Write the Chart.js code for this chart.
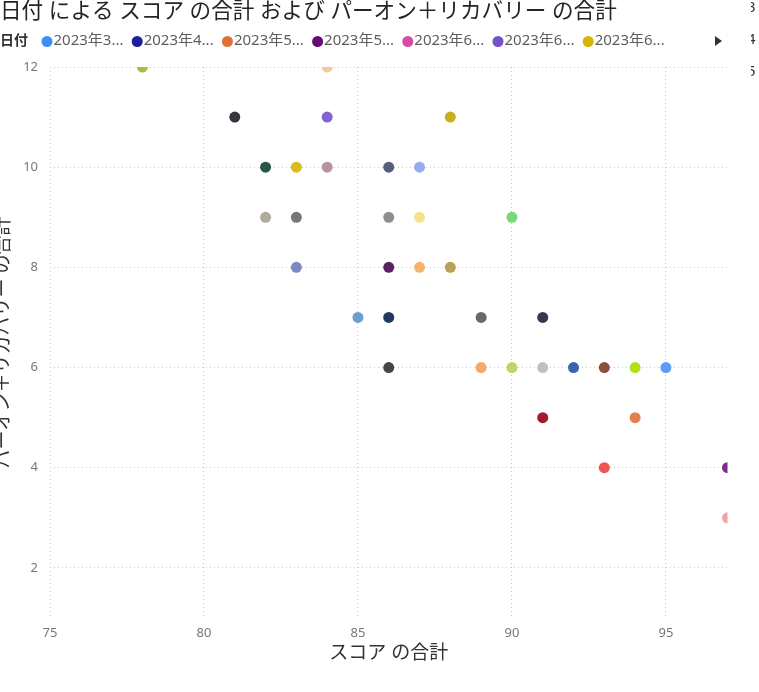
<!DOCTYPE html>
<html>
<head>
<meta charset="utf-8">
<script src="https://cdn.jsdelivr.net/npm/chart.js@4/dist/chart.umd.min.js"></script>
<style>
html, body { margin: 0; padding: 0; background: #fff; }
#wrap { width: 759px; height: 692px; }
</style>
</head>
<body>
<div id="wrap"><canvas id="myChart"></canvas></div>
<script>
// スコア の合計 (x) と パーオン＋リカバリー の合計 (y)、日付ごとに1点
let scores = [78, 84, 81, 84, 88, 82, 83, 84, 86, 87, 82, 83, 86, 87, 90, 83, 86, 87, 88,
              85, 86, 89, 91, 86, 89, 90, 91, 92, 93, 94, 95, 91, 94, 93, 97, 97];
let parOnRecovery = [12, 12, 11, 11, 11, 10, 10, 10, 10, 10, 9, 9, 9, 9, 9, 8, 8, 8, 8,
                     7, 7, 7, 7, 6, 6, 6, 6, 6, 6, 6, 6, 5, 5, 4, 4, 3];
let pointColors = ["#9DC140", "#F5C99A", "#35373C", "#8462CF", "#C9AE1E", "#265848", "#D8BD1E",
                   "#B8929E", "#55607A", "#98AAF0", "#AEAA9C", "#77777B", "#8F8F93", "#F4E288",
                   "#78D878", "#7B89C2", "#5A2262", "#F5B46C", "#B8A055", "#6B9FD1", "#203A5E",
                   "#6A6A6A", "#3A3550", "#414848", "#F5A868", "#B6DA62", "#C6BEB8", "#4060B4",
                   "#8B4F3C", "#B2E012", "#5B9CF8", "#A31A2C", "#E3804C", "#EF5454", "#7B2A92",
                   "#F2A2A2"];

let legendLabels = ["2023年3...", "2023年4...", "2023年5...", "2023年5...", "2023年6...", "2023年6...", "2023年6..."];
let legendColors = ["#3F8EF8", "#1E1F9C", "#E26F38", "#6A0A7A", "#D64BAA", "#7650C6", "#D6B400"];

let xTicks = [75, 80, 85, 90, 95];
let yTicks = [2, 4, 6, 8, 10, 12];

const FONT = "'Noto Sans', 'Noto Sans CJK JP', sans-serif";

// タイトルと凡例は Power BI 風に手で描く
const headerPlugin = {
    id: 'header',
    afterDraw(chart) {
        const ctx = chart.ctx;
        ctx.save();
        ctx.textBaseline = 'middle';
        ctx.textAlign = 'left';

        ctx.fillStyle = '#252423';
        ctx.font = `21.6px ${FONT}`;
        ctx.fillText('日付 による スコア の合計 および パーオン＋リカバリー の合計', 0, 12);

        ctx.font = `bold 14px ${FONT}`;
        ctx.fillStyle = '#333333';
        ctx.fillText('日付', 0, 41);

        ctx.font = `15px ${FONT}`;
        legendLabels.forEach((label, i) => {
            const cx = 47 + i * 90.2;
            ctx.fillStyle = legendColors[i];
            ctx.beginPath();
            ctx.arc(cx, 41.5, 5.5, 0, Math.PI * 2);
            ctx.fill();
            ctx.fillStyle = '#605E5C';
            ctx.fillText(label, cx + 6.5, 41);
        });

        // 凡例のページ送り矢印
        ctx.fillStyle = '#333333';
        ctx.beginPath();
        ctx.moveTo(715, 36);
        ctx.lineTo(722, 41);
        ctx.lineTo(715, 46);
        ctx.closePath();
        ctx.fill();

        // 右端で切れている隣のビジュアルの文字
        ctx.beginPath();
        ctx.rect(751, 0, 8, 90);
        ctx.clip();
        ctx.font = `15px ${FONT}`;
        ctx.fillStyle = '#333333';
        ctx.fillText('3', 747, 8);
        ctx.fillText('4', 747, 40);
        ctx.fillText('5', 747, 72);
        ctx.restore();
    }
};

new Chart("myChart", {
    type: "scatter",
    data: {
        datasets: [{
            data: scores.map((s, i) => ({x: s, y: parOnRecovery[i]})),
            backgroundColor: pointColors,
            borderWidth: 0,
            pointRadius: 5.5,
            pointHoverRadius: 5.5,
            clip: 0
        }]
    },
    options: {
        responsive: true,
        maintainAspectRatio: false,
        animation: false,
        layout: {padding: {top: 67, right: 31.5, left: 0, bottom: 0}},
        plugins: {
            legend: {display: false},
            title: {display: false},
            tooltip: {enabled: false}
        },
        scales: {
            x: {
                type: 'linear',
                min: 75,
                max: 97,
                afterBuildTicks: (scale) => { scale.ticks = xTicks.map(v => ({value: v})); },
                afterFit: (scale) => { scale.height = 74; },
                ticks: {color: '#777777', font: {size: 13, family: FONT}, padding: 7},
                grid: {color: '#c8c8c8', drawTicks: false, lineWidth: 1},
                border: {display: false, dash: [1, 3]},
                title: {
                    display: true,
                    text: 'スコア の合計',
                    color: '#333333',
                    font: {size: 19, family: FONT, lineHeight: 1},
                    padding: {top: 0, bottom: 28.5}
                }
            },
            y: {
                type: 'linear',
                min: 1,
                max: 12,
                afterBuildTicks: (scale) => { scale.ticks = yTicks.map(v => ({value: v})); },
                afterFit: (scale) => { scale.width = 50; },
                ticks: {color: '#777777', font: {size: 13, family: FONT}, padding: 12},
                grid: {color: '#c8c8c8', drawTicks: false, lineWidth: 1},
                border: {display: false, dash: [1, 3]},
                title: {
                    display: true,
                    text: 'パーオン＋リカバリー の合計',
                    color: '#333333',
                    font: {size: 19, family: FONT, lineHeight: 1},
                    padding: {top: -6, bottom: 0}
                }
            }
        }
    },
    plugins: [headerPlugin]
});
</script>
</body>
</html>
